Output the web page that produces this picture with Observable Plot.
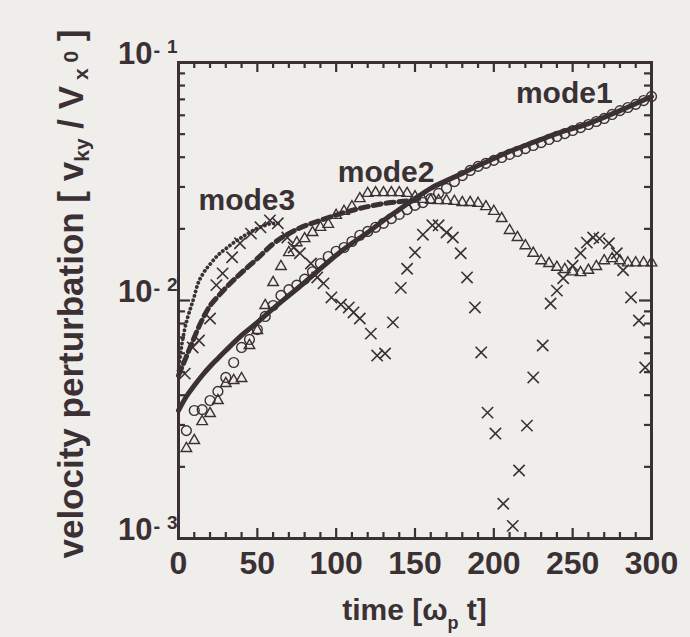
<!DOCTYPE html>
<html>
<head>
<meta charset="utf-8">
<script src="https://cdn.jsdelivr.net/npm/d3@7"></script>
<script src="https://cdn.jsdelivr.net/npm/@observablehq/plot@0.6"></script>
<style>
  body { margin: 0; background: #efeeeb; }
  #chart svg { display: block; }
</style>
</head>
<body>
<div id="chart"></div>
<script>
// ---------------- data ----------------
const simTime = [5,10,15,20,25,30,35,40,45,50,55,60,65,70,75,80,85,90,95,100,
  105,110,115,120,125,130,135,140,145,150,155,160,165,170,175,180,185,190,195,200,
  205,210,215,220,225,230,235,240,245,250,255,260,265,270,275,280,285,290,295,300];

// mode1 simulation (open circles)
const mode1Sim = [2.84e-3,3.45e-3,3.48e-3,3.80e-3,4.15e-3,4.75e-3,5.49e-3,6.35e-3,6.86e-3,7.55e-3,
  8.57e-3,9.53e-3,1.05e-2,1.11e-2,1.16e-2,1.23e-2,1.32e-2,1.43e-2,1.53e-2,1.61e-2,
  1.67e-2,1.77e-2,1.88e-2,1.95e-2,2.03e-2,2.11e-2,2.21e-2,2.30e-2,2.41e-2,2.51e-2,
  2.58e-2,2.68e-2,2.82e-2,2.96e-2,3.16e-2,3.35e-2,3.52e-2,3.66e-2,3.77e-2,3.88e-2,
  3.99e-2,4.11e-2,4.23e-2,4.35e-2,4.48e-2,4.61e-2,4.75e-2,4.89e-2,5.03e-2,5.18e-2,
  5.33e-2,5.49e-2,5.65e-2,5.82e-2,6.05e-2,6.28e-2,6.47e-2,6.67e-2,6.92e-2,7.20e-2];

// mode2 simulation (open triangles)
const mode2Sim = [2.39e-3,2.58e-3,3.10e-3,3.35e-3,3.80e-3,4.48e-3,4.61e-3,4.70e-3,6.47e-3,7.48e-3,
  9.53e-3,1.19e-2,1.39e-2,1.59e-2,1.75e-2,1.82e-2,1.93e-2,2.03e-2,2.09e-2,2.28e-2,
  2.37e-2,2.48e-2,2.68e-2,2.82e-2,2.84e-2,2.84e-2,2.84e-2,2.84e-2,2.82e-2,2.73e-2,
  2.66e-2,2.64e-2,2.63e-2,2.63e-2,2.61e-2,2.58e-2,2.58e-2,2.56e-2,2.48e-2,2.37e-2,
  2.21e-2,1.97e-2,1.84e-2,1.70e-2,1.58e-2,1.47e-2,1.43e-2,1.38e-2,1.35e-2,1.32e-2,
  1.31e-2,1.34e-2,1.39e-2,1.47e-2,1.50e-2,1.47e-2,1.44e-2,1.44e-2,1.44e-2,1.44e-2];

// mode3 simulation (crosses)
const mode3SimTime = [4,9,13,20,24,28,34,39,46,52,58,63,69,73,77,84,88,92,97,103,
  108,111,115,122,126,131,136,141,145,150,155,161,165,170,174,179,183,188,192,196,
  201,206,212,216,221,225,231,236,240,244,250,255,259,263,267,273,278,282,287,292,296];
const mode3Sim = [4.93e-3,6.35e-3,6.79e-3,8.40e-3,1.16e-2,1.30e-2,1.52e-2,1.74e-2,1.91e-2,2.03e-2,
  2.17e-2,2.11e-2,1.84e-2,1.67e-2,1.58e-2,1.43e-2,1.25e-2,1.18e-2,1.03e-2,9.62e-3,
  9.35e-3,8.91e-3,8.40e-3,7.26e-3,5.87e-3,5.99e-3,8.09e-3,1.13e-2,1.36e-2,1.59e-2,
  1.89e-2,2.07e-2,2.07e-2,1.93e-2,1.84e-2,1.58e-2,1.25e-2,9.35e-3,6.05e-3,3.38e-3,
  2.76e-3,1.40e-3,1.13e-3,1.93e-3,2.98e-3,4.75e-3,6.47e-3,9.71e-3,1.10e-2,1.24e-2,
  1.40e-2,1.58e-2,1.75e-2,1.84e-2,1.82e-2,1.74e-2,1.58e-2,1.34e-2,1.03e-2,8.24e-3,5.23e-3];

// theory curves
const mode1TheoryTime = [0,5,10,15,20,25,30,40,50,60,70,80,90,100,110,120,130,140,150,160,
  170,180,190,200,210,220,240,260,280,300];
const mode1Theory = [3.45e-3,3.95e-3,4.39e-3,4.84e-3,5.28e-3,5.71e-3,6.16e-3,7.13e-3,8.09e-3,9.25e-3,
  1.05e-2,1.19e-2,1.36e-2,1.55e-2,1.74e-2,1.93e-2,2.17e-2,2.41e-2,2.68e-2,2.96e-2,
  3.19e-2,3.42e-2,3.69e-2,3.95e-2,4.23e-2,4.48e-2,5.03e-2,5.54e-2,6.28e-2,7.20e-2];

const mode2TheoryTime = [0,5,10,15,20,25,30,40,50,60,75,90,105,120,135,150];
const mode2Theory = [4.84e-3,5.82e-3,7.00e-3,8.30e-3,9.50e-3,1.04e-2,1.13e-2,1.31e-2,1.50e-2,1.73e-2,
  1.99e-2,2.17e-2,2.34e-2,2.48e-2,2.58e-2,2.63e-2];

const mode3TheoryTime = [0,2,4,6,8,10,12,16,20,25,30,35,40,45,50,55,60,64];
const mode3Theory = [5.08e-3,6.47e-3,7.62e-3,8.57e-3,9.44e-3,1.04e-2,1.16e-2,1.31e-2,1.42e-2,1.55e-2,
  1.65e-2,1.75e-2,1.84e-2,1.93e-2,2.01e-2,2.07e-2,2.11e-2,2.11e-2];

// curve labels (anchor in data units: time, value)
const labelNames = ["mode1", "mode2", "mode3"];
const labelTime = [214, 101, 12.7];
const labelValue = [0.0673, 0.0316, 0.0239];

// ticks
const xMajorTicks = [0,50,100,150,200,250,300];
const xMinorTicks = [10,20,30,40,60,70,80,90,110,120,130,140,160,170,180,190,210,220,230,240,260,270,280,290];
const yMajorTicks = [1e-3,1e-2,1e-1];
const yMajorExp = ["3","2","1"];
const yMinorTicks = [2e-3,3e-3,4e-3,5e-3,6e-3,7e-3,8e-3,9e-3,2e-2,3e-2,4e-2,5e-2,6e-2,7e-2,8e-2,9e-2];

// ---------------- drawing ----------------
const ink = "#3b3135";
const paper = "#efeeeb";
const font = "'Liberation Sans', Arial, Helvetica, sans-serif";

const W = 690, H = 637, mL = 178, mR = 39, mT = 62, mB = 99;
const innerW = W - mL - mR, innerH = H - mT - mB;

const zip = (t, v) => t.map((d, i) => ({t: d, v: v[i]}));
const m1 = zip(simTime, mode1Sim);
const m2 = zip(simTime, mode2Sim);
const m3 = zip(mode3SimTime, mode3Sim);
const th1 = zip(mode1TheoryTime, mode1Theory);
const th2 = zip(mode2TheoryTime, mode2Theory);
const th3 = zip(mode3TheoryTime, mode3Theory);
const labels = labelNames.map((n, i) => ({n, t: labelTime[i], v: labelValue[i]}));

const majorY = 12, minorY = 7, majorX = 10, minorX = 6;

const chart = Plot.plot({
  width: W, height: H,
  marginLeft: mL, marginRight: mR, marginTop: mT, marginBottom: mB,
  style: {background: paper, fontFamily: font, color: ink},
  x: {domain: [0, 300], axis: null},
  y: {type: "log", domain: [1e-3, 1e-1], axis: null},
  marks: [
    // inward ticks: bottom / top
    Plot.tickX(xMajorTicks, {x: d => d, insetTop: innerH - majorX, stroke: ink, strokeWidth: 2.2}),
    Plot.tickX(xMinorTicks, {x: d => d, insetTop: innerH - minorX, stroke: ink, strokeWidth: 2.2}),
    Plot.tickX(xMajorTicks, {x: d => d, insetBottom: innerH - majorX, stroke: ink, strokeWidth: 2.2}),
    Plot.tickX(xMinorTicks, {x: d => d, insetBottom: innerH - minorX, stroke: ink, strokeWidth: 2.2}),
    // inward ticks: left / right
    Plot.tickY(yMajorTicks, {y: d => d, insetRight: innerW - majorY, stroke: ink, strokeWidth: 2.2}),
    Plot.tickY(yMinorTicks, {y: d => d, insetRight: innerW - minorY, stroke: ink, strokeWidth: 2.2}),
    Plot.tickY(yMajorTicks, {y: d => d, insetLeft: innerW - majorY, stroke: ink, strokeWidth: 2.2}),
    Plot.tickY(yMinorTicks, {y: d => d, insetLeft: innerW - minorY, stroke: ink, strokeWidth: 2.2}),

    // theory lines
    Plot.line(th1, {x: "t", y: "v", stroke: ink, strokeWidth: 5, curve: "monotone-x"}),
    Plot.line(th2, {x: "t", y: "v", stroke: ink, strokeWidth: 5, strokeDasharray: "8,5", curve: "monotone-x"}),
    Plot.line(th3, {x: "t", y: "v", stroke: ink, strokeWidth: 3.8, strokeDasharray: "0.1,4.4", strokeLinecap: "round", curve: "monotone-x"}),

    // simulation markers
    Plot.dot(m1, {x: "t", y: "v", symbol: "circle", r: 4.9, stroke: ink, strokeWidth: 1.4, fill: "none"}),
    Plot.dot(m2, {x: "t", y: "v", symbol: "triangle", r: 3.9, stroke: ink, strokeWidth: 1.4, fill: "none"}),
    Plot.dot(m3, {x: "t", y: "v", symbol: "times", r: 5.2, stroke: ink, strokeWidth: 1.6}),

    // curve labels
    Plot.text(labels, {x: "t", y: "v", text: "n", textAnchor: "start", lineAnchor: "bottom",
      fontSize: 30, fontWeight: "bold", fill: ink, ariaLabel: "curve-labels"}),

    // x tick labels
    Plot.text(xMajorTicks, {x: d => d, frameAnchor: "bottom", dy: 25, text: d => String(d),
      lineAnchor: "middle", fontSize: 32, fontWeight: "bold", fill: ink, ariaLabel: "x-tick-labels"}),

    // y tick labels: "10", superscript minus, exponent
    Plot.text(yMajorTicks, {y: d => d, frameAnchor: "left", dx: -26, dy: -8, text: () => "10",
      textAnchor: "end", lineAnchor: "middle", fontSize: 31, fontWeight: "bold", fill: ink,
      ariaLabel: "y-tick-base"}),
    Plot.text(yMajorTicks, {y: d => d, frameAnchor: "left", dx: -25, dy: -12, text: () => "-",
      textAnchor: "start", lineAnchor: "middle", fontSize: 20, fontWeight: "bold", fill: ink}),
    Plot.text(yMajorTicks, {y: d => d, frameAnchor: "left", dx: -1, dy: -16, text: (d, i) => yMajorExp[i],
      textAnchor: "end", lineAnchor: "middle", fontSize: 19, fontWeight: "bold", fill: ink}),

    Plot.frame({stroke: ink, strokeWidth: 3})
  ]
});

document.getElementById("chart").appendChild(chart);
const svg = d3.select(chart);

svg.selectAll('g[aria-label="curve-labels"] text')
  .attr("textLength", 108).attr("lengthAdjust", "spacingAndGlyphs");
svg.selectAll('g[aria-label="x-tick-labels"] text')
  .attr("letter-spacing", 2);
svg.selectAll('g[aria-label="y-tick-base"] text')
  .attr("letter-spacing", 2);

// x axis title: time [ω_p t]
const xt = svg.append("text")
  .attr("x", mL + innerW / 2).attr("y", 620)
  .attr("text-anchor", "middle")
  .attr("font-family", font).attr("font-weight", "bold").attr("font-size", 30)
  .attr("fill", ink);
xt.append("tspan").text("time [\u03c9");
xt.append("tspan").attr("font-size", 18).attr("dy", 9).text("p");
xt.append("tspan").attr("dy", -9).text(" t]");

// y axis title
const yt = svg.append("text")
  .attr("transform", `translate(83,${mT + innerH / 2 - 6}) rotate(-90)`)
  .attr("text-anchor", "middle")
  .attr("font-family", font).attr("font-weight", "bold").attr("font-size", 35)
  .attr("fill", ink);
yt.append("tspan").text("velocity perturbation [ v");
yt.append("tspan").attr("font-size", 21).attr("dy", 6).text("ky");
yt.append("tspan").attr("dy", -6).text(" / V");
yt.append("tspan").attr("font-size", 21).attr("dy", 5).text(" x");
yt.append("tspan").attr("font-size", 21).attr("dy", -10).text(" 0");
yt.append("tspan").attr("dy", 5).text(" ]");
</script>
</body>
</html>
